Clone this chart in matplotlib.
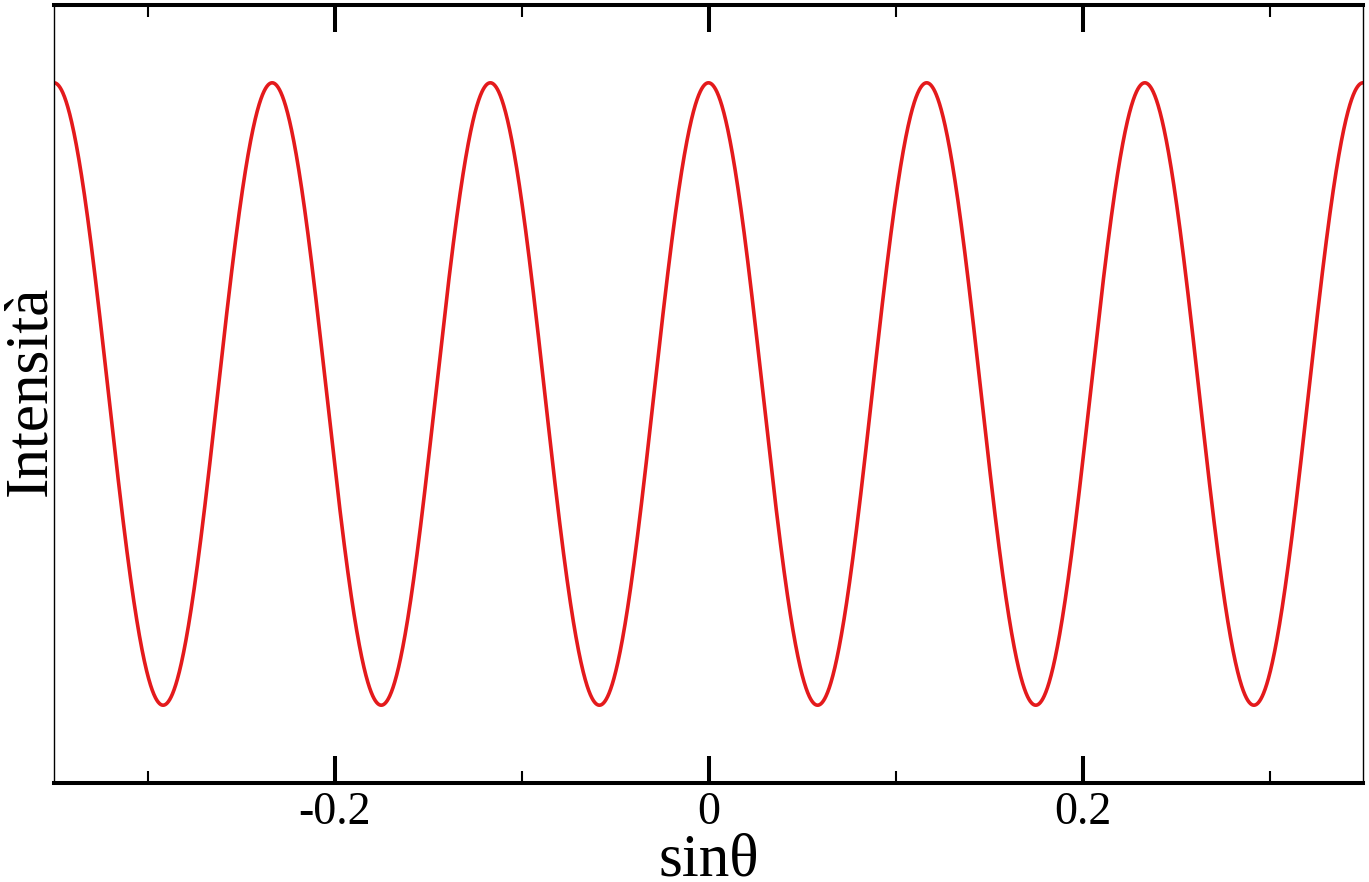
import numpy as np
import matplotlib
matplotlib.use("Agg")
import matplotlib.pyplot as plt
from matplotlib.ticker import NullLocator, FixedLocator, FixedFormatter

# Values
x_limits = [-0.35, 0.35]            # sin(theta) range
fringe_period = 0.35 / 3            # spacing between bright fringes in sin(theta)
peak_intensity = 1.0
min_intensity = 0.0
y_limits = [-0.125, 1.125]
major_ticks = [-0.2, 0.0, 0.2]
major_labels = ["-0.2", "0", "0.2"]
minor_ticks = [-0.3, -0.1, 0.1, 0.3]
x_label = "sinθ"
y_label = "Intensità"

# two-slit interference profile
sin_theta = np.linspace(x_limits[0], x_limits[1], 4001)
intensity = min_intensity + (peak_intensity - min_intensity) * np.cos(np.pi * sin_theta / fringe_period) ** 2

plt.rcParams['font.family'] = ['Liberation Serif', 'DejaVu Serif']

fig = plt.figure(figsize=(13.69, 8.82), dpi=100)
ax = fig.add_axes([54/1369, 1 - 783/882, (1363-54)/1369, (783-5)/882])

ax.plot(sin_theta, intensity, color='#e41a1c', lw=2.6, solid_capstyle='round')
ax.set_xlim(*x_limits)
ax.set_ylim(*y_limits)

ax.xaxis.set_major_locator(FixedLocator(major_ticks))
ax.xaxis.set_major_formatter(FixedFormatter(major_labels))
ax.xaxis.set_minor_locator(FixedLocator(minor_ticks))
ax.yaxis.set_major_locator(NullLocator())
ax.yaxis.set_minor_locator(NullLocator())

ax.tick_params(axis='x', which='major', direction='in', top=True, bottom=True,
               length=19.5, width=2.9, labelsize=33, pad=6, color='black')
ax.tick_params(axis='x', which='minor', direction='in', top=True, bottom=True,
               length=8.5, width=1.5, color='black')

for side in ['top', 'bottom']:
    ax.spines[side].set_linewidth(2.9)
for side in ['left', 'right']:
    ax.spines[side].set_linewidth(1.0)

ax.set_xlabel(x_label, fontsize=44)
ax.xaxis.label.set_va('baseline')
ax.xaxis.set_label_coords(0.5, (783 - 876) / 778)
ax.set_ylabel(y_label, fontsize=44)
ax.yaxis.label.set_va('baseline')
ax.yaxis.set_label_coords((45 - 54) / 1309, (783 - 391) / 778)

fig.savefig("out.png", dpi=100)
